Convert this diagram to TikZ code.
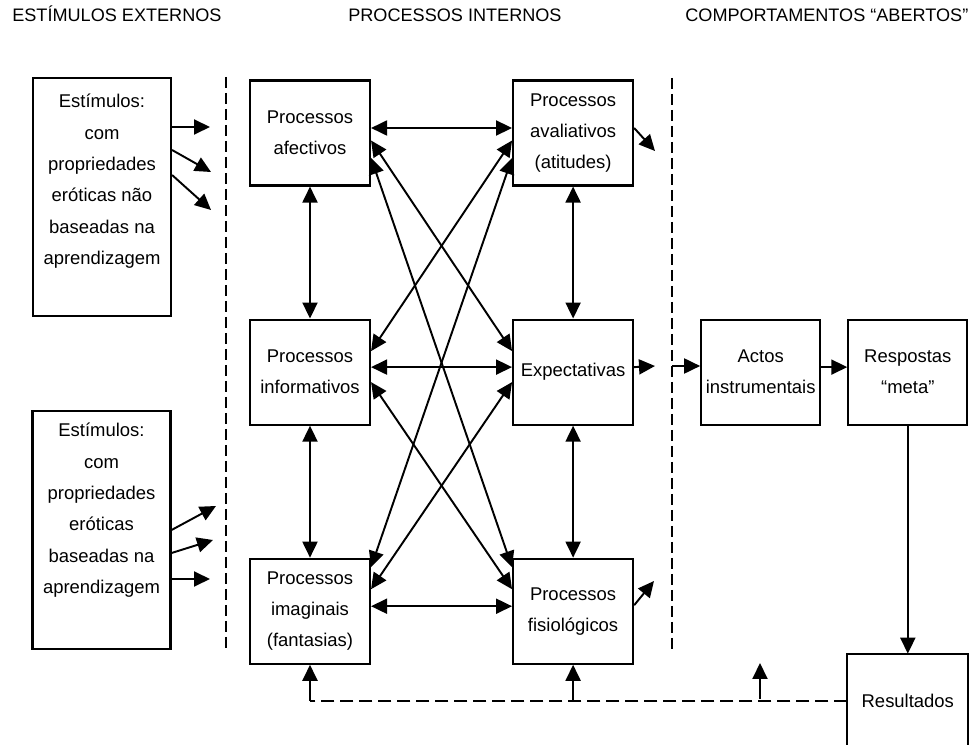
\documentclass[tikz,border=0pt]{standalone}
\usepackage{fontspec}
\setmainfont{Liberation Sans}
\usepackage{tikz}
\usetikzlibrary{positioning,calc,arrows.meta}
\tikzset{
    procbox/.style={draw=black, line width=1.2pt, minimum width=2.4cm, minimum height=2.1cm, inner sep=1pt, align=center, font=\fontsize{10.5}{17.5}\selectfont},
    stimbox/.style={draw=black, line width=1.2pt, minimum width=2.76cm, minimum height=4.76cm, inner sep=0pt},
    stimtext/.style={align=center, inner sep=0pt, font=\fontsize{10.5}{17.8}\selectfont}
}

\begin{document}
\begin{tikzpicture}[
        % Pontas e linhas
        >={Triangle[length=3.2mm,width=3mm]},
        flow/.style={->, line width=1.1pt},
        both/.style={<->, line width=1.1pt},
        divider/.style={line width=1.1pt, dash pattern=on 2.2mm off 1mm},
        feedback/.style={line width=1.1pt, dash pattern=on 2.6mm off 1.2mm},
        header/.style={inner sep=0pt, font=\fontsize{10.3}{12}\selectfont}
    ]
        \useasboundingbox (0,0) rectangle (19.5,-14.9);

        % --- TITULOS ---
        \node[header, anchor=base west] (hext) at (0.24,-0.43) {ESTÍMULOS EXTERNOS};
        \node[header, anchor=base west] (hint) at (6.96,-0.43) {PROCESSOS INTERNOS};
        \node[header, anchor=base west] (hcomp) at (13.7,-0.43) {COMPORTAMENTOS “ABERTOS”};

        % --- ESTIMULOS ---
        \node[stimbox] (ext1) at (2.04,-3.94) {};
        \node[stimtext, anchor=north] (ext1txt) at ([yshift=-3.4mm]ext1.north)
            {Estímulos:\\com\\propriedades\\eróticas não\\baseadas na\\aprendizagem};
        \node[stimbox] (ext2) at (2.03,-10.6) {};
        \node[stimtext, anchor=north] (ext2txt) at ([yshift=-2.6mm]ext2.north)
            {Estímulos:\\com\\propriedades\\eróticas\\baseadas na\\aprendizagem};

        \coordinate (e1a) at (4.2,-2.54);
        \coordinate (e1b) at (4.22,-3.44);
        \coordinate (e1c) at (4.22,-4.2);
        \draw[flow] ([yshift=14mm]ext1.east) -- (e1a);
        \draw[flow] ([yshift=9.4mm]ext1.east) -- (e1b);
        \draw[flow] ([yshift=4.4mm]ext1.east) -- (e1c);

        \coordinate (e2a) at (4.32,-10.12);
        \coordinate (e2b) at (4.26,-10.8);
        \coordinate (e2c) at (4.2,-11.58);
        \draw[flow] (ext2.east) -- (e2a);
        \draw[flow] ([yshift=-4.6mm]ext2.east) -- (e2b);
        \draw[flow] ([yshift=-9.8mm]ext2.east) -- (e2c);

        % --- LINHAS DIVISORIAS ---
        \coordinate (divLtop) at (4.52,-1.54);
        \coordinate (divLbot) at (4.52,-13.0);
        \coordinate (divRtop) at (13.44,-1.56);
        \coordinate (divRbot) at (13.44,-13.04);
        \draw[divider] (divLtop) -- (divLbot);
        \draw[divider] (divRtop) -- (divRbot);

        % --- PROCESSOS INTERNOS ---
        \node[procbox] (afet) at (6.2,-2.66) {Processos\\afectivos};
        \node[procbox, right=2.82cm of afet] (aval) {Processos\\avaliativos\\(atitudes)};
        \node[procbox, below=2.64cm of afet] (info) {Processos\\informativos};
        \node[procbox, below=2.64cm of aval] (expe) {Expectativas};
        \node[procbox, below=2.64cm of info] (imag) {Processos\\imaginais\\(fantasias)};
        \node[procbox, below=2.64cm of expe] (fisi) {Processos\\fisiológicos};

        % Verticais
        \draw[both] (afet) -- (info);
        \draw[both] (info) -- (imag);
        \draw[both] (aval) -- (expe);
        \draw[both] (expe) -- (fisi);

        % Horizontais
        \draw[both] ([yshift=1mm]afet.east) -- ([yshift=1mm]aval.west);
        \draw[both] ([yshift=1mm]info.east) -- ([yshift=1mm]expe.west);
        \draw[both] ([yshift=1mm]imag.east) -- ([yshift=1mm]fisi.west);

        % Diagonais
        \draw[both] ([yshift=-1.5mm]afet.east) -- ([yshift=4.2mm]expe.west);
        \draw[both] ([yshift=-5mm]afet.east) -- ([yshift=8.8mm]fisi.west);
        \draw[both] ([yshift=-1.5mm]aval.west) -- ([yshift=4.2mm]info.east);
        \draw[both] ([yshift=-5mm]aval.west) -- ([yshift=8.8mm]imag.east);
        \draw[both] ([yshift=-2mm]info.east) -- ([yshift=4.4mm]fisi.west);
        \draw[both] ([yshift=-2mm]expe.west) -- ([yshift=4.4mm]imag.east);

        % Saidas
        \coordinate (avalout) at (13.1,-3.02);
        \coordinate (expeout) at (13.1,-7.32);
        \coordinate (fisiout) at (13.08,-11.62);
        \draw[flow] ([yshift=1mm]aval.east) -- (avalout);
        \draw[flow] ([yshift=1mm]expe.east) -- (expeout);
        \draw[flow] ([yshift=1.2mm]fisi.east) -- (fisiout);

        % --- COMPORTAMENTOS ---
        \node[procbox, minimum width=2.38cm, right=1.32cm of expe] (actos) {Actos\\instrumentais};
        \node[procbox, minimum width=2.38cm, right=0.52cm of actos] (resp) {Respostas\\“meta”};
        \node[procbox, draw=none, minimum width=2.38cm, minimum height=1.84cm,
            below=4.56cm of resp] (res) {Resultados};
        \draw[line width=1.2pt] (res.south west) -- (res.north west) -- (res.north east) -- (res.south east);

        \coordinate (actin) at (13.44,-7.32);
        \draw[flow] (actin) -- (actin -| actos.west);
        \draw[flow] ([yshift=1mm]actos.east) -- ([yshift=1mm]resp.west);
        \draw[flow] (resp) -- (res);

        % --- RETROACCAO ---
        \coordinate (fbL) at (imag.south |- res.west);
        \coordinate (fbF) at (fisi.south |- res.west);
        \coordinate (fbM) at (15.2,-13.98);
        \coordinate (fbMtop) at (15.2,-13.26);
        \draw[feedback] (res.west) -- (fbL);
        \draw[flow] (fbL) -- (imag.south);
        \draw[flow] (fbF) -- (fisi.south);
        \draw[flow] (fbM) -- (fbMtop);

    \end{tikzpicture}
\end{document}
